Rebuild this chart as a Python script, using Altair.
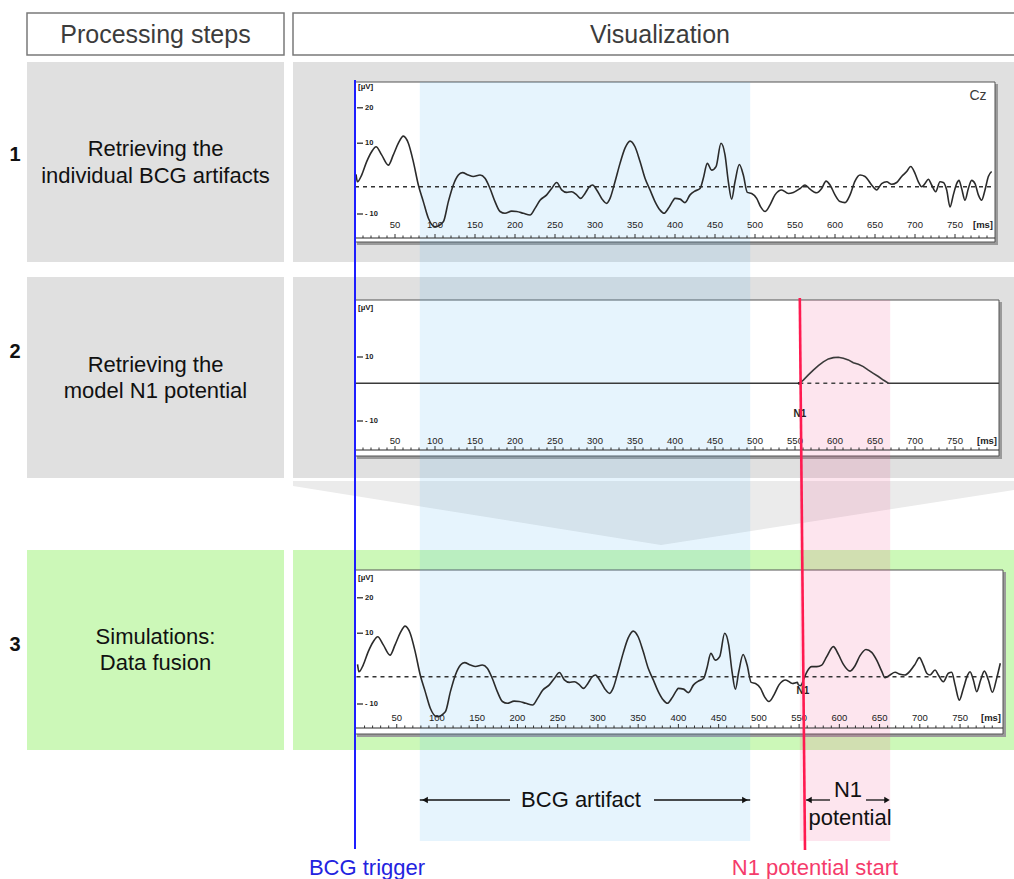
import altair as alt
import pandas as pd

W, H = 1014, 879
FONT = "Liberation Sans"

# ---------------- data ----------------
# Cz recording of one BCG epoch: time after the BCG trigger (ms) and amplitude (µV)
cz_time = [1.3, 3.0, 8.3, 14.6, 20.8, 26.3, 33.3, 41.7, 47.9, 54.2, 60.4, 66.7,
           72.9, 79.2, 85.4, 91.7, 100.0, 110.4, 116.7, 122.9, 129.2, 134.2,
           141.7, 147.9, 156.3, 162.5, 168.8, 175.0, 181.3, 187.5, 195.8, 202.1,
           210.4, 218.8, 225.0, 231.3, 239.6, 245.8, 252.1, 258.3, 264.6, 270.8,
           277.1, 282.1, 287.5, 292.9, 297.1, 302.1, 308.3, 314.6, 318.8, 325.0,
           331.3, 337.5, 343.8, 350.0, 356.3, 362.5, 368.8, 375.0, 381.3, 386.3,
           391.7, 397.9,
           400.0, 406.3, 412.5, 418.8, 425.0, 431.3, 435.4, 440.4, 445.8, 451.3,
           457.5, 462.5, 466.7, 470.8, 475.0, 480.4, 485.4, 490.4, 495.8, 502.1,
           507.1, 512.5, 518.8, 525.0, 533.3, 541.7, 547.9, 556.3, 562.5, 568.8,
           577.1, 583.3, 588.8, 593.8, 600.0, 606.3, 612.5, 618.8, 625.0, 631.3,
           637.5, 645.8, 652.1, 658.3, 664.6, 670.8, 677.1, 683.3, 689.6, 694.6,
           700.0, 704.2, 708.3, 712.5, 716.7, 720.8, 725.8, 731.3, 735.4, 739.6,
           743.8, 747.9, 752.1, 755.0, 758.3, 762.5, 766.7, 770.8, 775.0, 779.2,
           783.3, 787.5, 791.7, 795.8]
cz_uv = [1.2, -0.9, 1.0, 4.8, 7.6, 9.0, 6.7, 3.8, 6.7, 10.0, 12.0, 10.0,
         4.8, -1.8, -6.5, -11.2, -13.6, -12.2, -6.5, -1.8, 1.0, 1.7,
         1.0, 0.6, 1.0, 0.1, -2.8, -6.5, -9.3, -9.8, -9.2, -9.3,
         -9.8, -10.3, -8.4, -6.1, -4.6, -2.8, -1.1, -3.2, -3.9, -3.7,
         -4.6, -5.6, -4.2, -2.3, -1.8, -3.2, -5.6, -7.0, -5.6, -0.9,
         4.3, 8.6, 10.6, 9.0, 4.8, 0.1, -3.2, -6.5, -8.9, -9.8,
         -8.4, -6.1,
         -5.6, -5.8, -6.8, -4.6, -3.5, -2.8, 0.1, 4.3, 2.4, 3.4,
         10.0, 6.7, -0.9, -5.8, -0.9, 4.0, 1.0, -3.9, -4.2, -5.6,
         -8.0, -9.3, -7.4, -4.6, -3.2, -4.2, -3.9, -2.8, -1.8, -3.0,
         -4.0, -2.8, -0.7, -1.8, -4.6, -6.5, -6.8, -4.6, -0.7, 1.0,
         0.6, -1.8, -3.2, -1.4, -0.9, -1.6, -1.1, 0.6, 2.0, 3.4,
         1.5, -0.9, -2.3, -1.4, -0.2, -1.8, -3.7, -0.9, -1.1, -3.2,
         -8.0, -4.6, -1.4, -0.5, -2.8, -6.1, -2.8, -0.5, -1.4, -4.6,
         -6.1, -3.2, 0.6, 2.0]
cz_baseline = -2.3

# model N1 potential (ms, µV)
n1_time = [0, 555.4, 560.4, 566.7, 572.9, 579.2, 585.4, 591.7, 597.9, 604.2,
           610.4, 616.7, 622.9, 629.2, 635.4, 641.7, 647.9, 654.2, 660.4, 666.7, 805]
n1_uv = [1.8, 1.8, 2.8, 4.4, 5.9, 7.3, 8.5, 9.4, 9.8, 9.9,
         9.6, 9.1, 8.2, 7.7, 7.0, 5.9, 4.9, 3.9, 2.8, 1.8, 1.8]
n1_baseline = 1.8

# fused signal: identical to Cz before the N1 onset, then Cz + N1
fusion_tail_time = [549.1, 552.0, 556.1, 560.2, 565.6, 571.9, 578.1, 584.3, 592.5,
                    598.8, 605.0, 613.3, 619.5, 625.7, 633.1, 640.2, 646.4, 652.6,
                    656.8, 663.0, 669.2, 675.4, 681.6, 687.8, 694.0, 699.4, 704.4,
                    708.6, 712.7, 718.9, 723.0, 729.3, 735.5, 739.6, 743.8, 749.1,
                    754.1, 759.5, 762.4, 766.5, 770.7, 775.6, 780.2, 785.2, 790.1,
                    795.5, 800.0]
fusion_tail_uv = [-4.6, -4.8, -2.75, -0.7, 0.55, 0.55, 1.0, 3.4, 6.2,
                  4.0, 1.2, -0.7, 0.8, 3.65, 5.4, 4.6, 2.4, -0.7,
                  -2.6, -1.8, -1.05, -1.6, -1.8, -0.7, 1.2, 3.1, 1.0,
                  -1.3, -1.8, -0.4, -1.8, -3.7, -1.3, -1.05, -4.6, -8.9,
                  -5.6, -1.8, -0.9, -3.2, -6.5, -3.2, -0.7, -3.2, -6.7,
                  -2.75, 1.5]

bcg_window = [81, 494]      # ms
n1_window = [556, 669]      # ms
n1_onset = 556              # ms
bcg_trigger = 0             # ms

time_ticks = [50, 100, 150, 200, 250, 300, 350, 400, 450, 500, 550, 600, 650, 700, 750]
minor_ticks = [t for t in range(10, 800, 10) if t % 50]
uv_ticks_cz = [20, 10, -10]
uv_ticks_model = [10, -10]

row_titles = [["Retrieving the", "individual BCG artifacts"],
              ["Retrieving the", "model N1 potential"],
              ["Simulations:", "Data fusion"]]

# ---------------- helpers ----------------
ONE = alt.Data(values=[{"k": 0}])
GRAY = "#e0e0e0"
GREEN = "#ccf8b8"
BLUE = "#1e1eff"
RED = "#ff1a50"


def box(x0, x1, y0, y1, fill, stroke=None, sw=0.0, opacity=1.0):
    kw = dict(fill=fill, fillOpacity=opacity)
    if stroke:
        kw.update(stroke=stroke, strokeWidth=sw)
    return alt.Chart(ONE).mark_rect(**kw).encode(
        x=alt.value(x0), x2=alt.value(x1), y=alt.value(y0), y2=alt.value(y1))


def label(s, x, y, size, color="#111111", weight="normal", align="center"):
    return alt.Chart(ONE).mark_text(
        text=s, fontSize=size, color=color, fontWeight=weight, align=align,
        baseline="middle", font=FONT).encode(x=alt.value(x), y=alt.value(y))


def hline(x0, x1, y, color="#333333", width=1.0):
    return alt.Chart(ONE).mark_rule(color=color, strokeWidth=width).encode(
        x=alt.value(x0), x2=alt.value(x1), y=alt.value(y))


def tscale(t_max, x0, x1):
    return alt.Scale(domain=[0, t_max], range=[x0, x1], nice=False, zero=False)


def vscale(v_lo, v_hi, y_lo, y_hi):
    return alt.Scale(domain=[v_lo, v_hi], range=[y_lo, y_hi], nice=False, zero=False)


panels = {
    "cz": dict(xs=tscale(800, 355, 995), ys=vscale(-10, 20, 214.0, 107.8),
               frame=(355, 995, 82, 242), axis_y=238, label_y=225, unit_y=87),
    "model": dict(xs=tscale(805, 355, 999), ys=vscale(-10, 10, 421, 357),
                  frame=(355, 999, 300, 456), axis_y=450, label_y=441, unit_y=308),
    "fusion": dict(xs=tscale(800, 356.5, 1000.3), ys=vscale(-10, 20, 704.0, 597.8),
                   frame=(355, 1003, 570, 734), axis_y=728, label_y=718, unit_y=578),
}


def frame_layers(p):
    x0, x1, y0, y1 = p["frame"]
    return [box(x0 + 2, x1 + 3, y0 + 2, y1 + 3, "#9a9a9a"),
            box(x0, x1, y0, y1, "white", "#555555", 1.0)]


def axis_layers(p, uv_ticks):
    xs, ys = p["xs"], p["ys"]
    x0, x1, _, _ = p["frame"]
    ay = p["axis_y"]
    out = [hline(x0, x1, ay, "#2a2a2a", 1.2)]
    out.append(alt.Chart(pd.DataFrame({"t": minor_ticks})).mark_rule(
        color="#333333", strokeWidth=1).encode(
        x=alt.X("t:Q", scale=xs, axis=None), y=alt.value(ay - 2.5), y2=alt.value(ay)))
    out.append(alt.Chart(pd.DataFrame({"t": time_ticks})).mark_rule(
        color="#333333", strokeWidth=1).encode(
        x=alt.X("t:Q", scale=xs, axis=None), y=alt.value(ay - 4), y2=alt.value(ay)))
    out.append(alt.Chart(pd.DataFrame({"t": time_ticks, "lab": [str(t) for t in time_ticks]}))
               .mark_text(fontSize=9.5, color="#222222", font=FONT, baseline="middle")
               .encode(x=alt.X("t:Q", scale=xs, axis=None), y=alt.value(p["label_y"]),
                       text="lab:N"))
    out.append(label("[ms]", x1 - 12, p["label_y"], 9.5, "#222222", "bold"))
    ydf = pd.DataFrame({"v": uv_ticks,
                        "lab": [str(v) if v > 0 else f"- {abs(v)}" for v in uv_ticks]})
    out.append(alt.Chart(ydf).mark_rule(color="#222222", strokeWidth=1.2).encode(
        x=alt.value(x0 + 2), x2=alt.value(x0 + 8),
        y=alt.Y("v:Q", scale=ys, axis=None)))
    out.append(alt.Chart(ydf).mark_text(fontSize=7.5, fontWeight="bold", color="#222222",
                                        font=FONT, align="left", baseline="middle").encode(
        x=alt.value(x0 + 10), y=alt.Y("v:Q", scale=ys, axis=None), text="lab:N"))
    out.append(label("[µV]", x0 + 3, p["unit_y"], 8, "#222222", "bold", "left"))
    return out


def line_layer(t, v, p, color="#2b2b2b", width=1.6, dash=None, smooth=False):
    kw = dict(color=color, strokeWidth=width)
    if dash:
        kw["strokeDash"] = dash
    if smooth:
        kw["interpolate"] = "monotone"
    return alt.Chart(pd.DataFrame({"t": t, "v": v})).mark_line(**kw).encode(
        x=alt.X("t:Q", scale=p["xs"], axis=None),
        y=alt.Y("v:Q", scale=p["ys"], axis=None))


def arrow_head(x, y, direction, size=45):
    return alt.Chart(ONE).mark_point(shape=f"triangle-{direction}", filled=True, size=size,
                                     color="#111111", opacity=1).encode(
        x=alt.value(x), y=alt.value(y))


P1, P2, P3 = panels["cz"], panels["model"], panels["fusion"]
layers = []

# header boxes
layers += [box(27, 284, 13, 55, "white", "#7a7a7a", 1.5),
           box(293, 1020, 13, 55, "white", "#7a7a7a", 1.5),
           label("Processing steps", 155.5, 35, 25, "#3c3c3c"),
           label("Visualization", 660, 35, 25, "#3c3c3c")]

# row backgrounds and the funnel between step 2 and step 3
row_spans = [(62, 262, GRAY), (277, 478, GRAY), (550, 750, GREEN)]
for y0, y1, col in row_spans:
    layers += [box(27, 284, y0, y1, col), box(293, 1014, y0, y1, col)]
funnel = pd.DataFrame({"x": [293, 661, 1014], "top": [481, 481, 481], "bottom": [486, 545, 490]})
layers.append(alt.Chart(funnel).mark_area(color="#ebebeb").encode(
    x=alt.X("x:Q", scale=None, axis=None),
    y=alt.Y("top:Q", scale=None, axis=None), y2="bottom:Q"))

# step numbers and titles
title_y = [(155, 149, 176), (352, 365, 391), (645, 637, 663)]
for i, ((ny, y1, y2), lines) in enumerate(zip(title_y, row_titles)):
    layers += [label(str(i + 1), 15, ny, 20, "#111111", "bold"),
               label(lines[0], 155.5, y1, 22),
               label(lines[1], 155.5, y2, 22)]

# plot frames
for p in (P1, P2, P3):
    layers += frame_layers(p)

# shaded windows: BCG artifact and N1 potential
layers.append(alt.Chart(pd.DataFrame({"s": [bcg_window[0]], "e": [bcg_window[1]]}))
              .mark_rect(fill="#5ab4f0", fillOpacity=0.15)
              .encode(x=alt.X("s:Q", scale=P1["xs"], axis=None), x2="e:Q",
                      y=alt.value(82), y2=alt.value(841)))
layers.append(alt.Chart(pd.DataFrame({"s": [n1_window[0]], "e": [n1_window[1]]}))
              .mark_rect(fill="#f0508c", fillOpacity=0.15)
              .encode(x=alt.X("s:Q", scale=P1["xs"], axis=None), x2="e:Q",
                      y=alt.value(300), y2=alt.value(841)))

# axes of the three plots
layers += axis_layers(P1, uv_ticks_cz)
layers += axis_layers(P2, uv_ticks_model)
layers += axis_layers(P3, uv_ticks_cz)

# step 1: Cz recording
layers.append(line_layer([0, 800], [cz_baseline] * 2, P1, "#333333", 1.4, [4, 4]))
layers.append(line_layer(cz_time, cz_uv, P1, smooth=True))
layers.append(label("Cz", 978, 96, 14, "#3a3a3a"))

# step 2: model N1
layers.append(line_layer([n1_time[1], n1_time[-2]], [n1_baseline] * 2, P2, "#444444", 1.4, [4, 4]))
layers.append(line_layer(n1_time, n1_uv, P2, "#3a3a3a", 1.6))
layers.append(alt.Chart(pd.DataFrame({"t": [n1_time[1]], "v": [n1_baseline]}))
              .mark_point(filled=True, size=10, color="#222222", opacity=1)
              .encode(x=alt.X("t:Q", scale=P2["xs"], axis=None),
                      y=alt.Y("v:Q", scale=P2["ys"], axis=None)))
layers.append(label("N1", 800, 414, 10, "#222222", "bold"))

# step 3: data fusion
k = sum(1 for t in cz_time if t < fusion_tail_time[0])
fusion_time = cz_time[:k] + fusion_tail_time
fusion_uv = cz_uv[:k] + fusion_tail_uv
layers.append(line_layer([0, 800], [cz_baseline] * 2, P3, "#333333", 1.4, [4, 4]))
layers.append(line_layer(fusion_time, fusion_uv, P3, smooth=True))
layers.append(label("N1", 803, 691, 10, "#222222", "bold"))

# BCG trigger and N1 onset markers
layers.append(alt.Chart(pd.DataFrame({"t": [bcg_trigger]})).mark_rule(color=BLUE, strokeWidth=2)
              .encode(x=alt.X("t:Q", scale=P1["xs"], axis=None),
                      y=alt.value(80), y2=alt.value(849)))
layers.append(alt.Chart(pd.DataFrame({"t": [n1_onset]})).mark_rule(color=RED, strokeWidth=2.6)
              .encode(x=alt.X("t:Q", scale=P1["xs"], axis=None), x2=alt.value(805),
                      y=alt.value(298), y2=alt.value(850)))

# window annotations with arrows
arrow_y = 800
layers.append(alt.Chart(pd.DataFrame({"t": [bcg_window[0]]})).mark_rule(
    color="#111111", strokeWidth=1.3).encode(
    x=alt.X("t:Q", scale=P1["xs"], axis=None), x2=alt.value(510), y=alt.value(arrow_y)))
layers.append(alt.Chart(pd.DataFrame({"t": [bcg_window[1]]})).mark_rule(
    color="#111111", strokeWidth=1.3).encode(
    x=alt.X("t:Q", scale=P1["xs"], axis=None), x2=alt.value(654), y=alt.value(arrow_y)))
layers += [arrow_head(425, arrow_y, "left"), arrow_head(745, arrow_y, "right")]
layers.append(label("BCG artifact", 581, arrow_y, 22))

layers += [hline(806, 830, arrow_y, "#111111", 1.3), hline(866, 888, arrow_y, "#111111", 1.3),
           arrow_head(809, arrow_y, "left", 40), arrow_head(887, arrow_y, "right", 40)]
layers.append(label("N1", 848, 790, 22))
layers.append(label("potential", 850, 818, 22))

layers.append(label("BCG trigger", 367, 868, 22, "#2323e0"))
layers.append(label("N1 potential start", 815, 868, 22, "#f53b6b"))

chart = (alt.layer(*layers)
         .resolve_scale(x="independent", y="independent")
         .properties(width=W, height=H, padding=0, background="white",
                     autosize=alt.AutoSizeParams(type="none"))
         .configure_view(strokeWidth=0))

chart.save("out.html", embed_options={"renderer": "svg", "actions": False})
